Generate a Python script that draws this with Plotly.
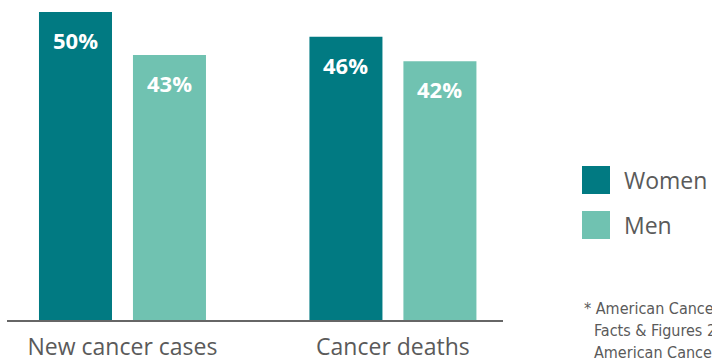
import plotly.graph_objects as go

categories = ["New cancer cases", "Cancer deaths"]
women = [50, 46]
men = [43, 42]
series_names = ["Women", "Men"]
colors = ["#017A82", "#70C2B1"]
footnote = ["* American Cancer Society. Cancer",
            "Facts & Figures 2024. Atlanta:",
            "American Cancer Society; 2024."]

FONT = "Open Sans"
NARROW = "DejaVu Sans Condensed, Roboto Condensed, Arial Narrow, sans-serif"
TEXT = "#5a5a5a"

# layout geometry (pixels)
W, H = 712, 362
L, R, T, B = 7, 209, 12, 42
pw = W - L - R
ph = H - T - B

fig = go.Figure()
for name, vals, col in zip(series_names, [women, men], colors):
    fig.add_trace(go.Bar(
        x=categories, y=vals, name=name, marker=dict(color=col, line=dict(width=0)),
        showlegend=False, hoverinfo="skip",
    ))

# bar value labels inside the top of each bar
bargap, groupgap = 0.305, 0.223
slot = (1 - bargap) / 2
for si, vals in enumerate([women, men]):
    off = (si - 0.5) * slot
    for ci, v in enumerate(vals):
        fig.add_annotation(
            x=ci + off, y=v, xref="x", yref="y", yshift=-28,
            text=f"<b>{v}%</b>", showarrow=False,
            font=dict(family=FONT, size=22, color="white"),
            xanchor="center", yanchor="middle",
        )

# manual legend
def px_x(p):
    return (p - L) / pw

def px_y(p):
    return (H - B - p) / ph

for i, (name, col) in enumerate(zip(series_names, colors)):
    top = 166 + i * 45
    fig.add_shape(type="rect", xref="paper", yref="paper",
                  x0=px_x(582), x1=px_x(610), y0=px_y(top + 28), y1=px_y(top),
                  fillcolor=col, line=dict(width=0))
    fig.add_annotation(xref="paper", yref="paper", x=px_x(622), y=px_y(top + 14),
                       text=name, showarrow=False, xanchor="left", yanchor="middle",
                       font=dict(family=FONT, size=23, color=TEXT))

# footnote
for i, line in enumerate(footnote):
    fig.add_annotation(xref="paper", yref="paper",
                       x=px_x(582 if i == 0 else 592), y=px_y(308 + i * 22),
                       text=line, showarrow=False, xanchor="left", yanchor="middle",
                       font=dict(family=NARROW, size=16, color=TEXT))

fig.update_layout(
    width=W, height=H,
    margin=dict(l=L, r=R, t=T, b=B, pad=0, autoexpand=False),
    paper_bgcolor="white", plot_bgcolor="white",
    barmode="group", bargap=bargap, bargroupgap=groupgap,
    xaxis=dict(range=[-0.427, 1.407], showgrid=False, showline=True,
               linecolor="#666666", linewidth=2, ticks="",
               automargin=False, ticklabelstandoff=5,
               tickfont=dict(family=FONT, size=23, color=TEXT)),
    yaxis=dict(range=[0, 50], visible=False, showgrid=False, automargin=False),
    showlegend=False,
)

fig.write_html("out.html")
